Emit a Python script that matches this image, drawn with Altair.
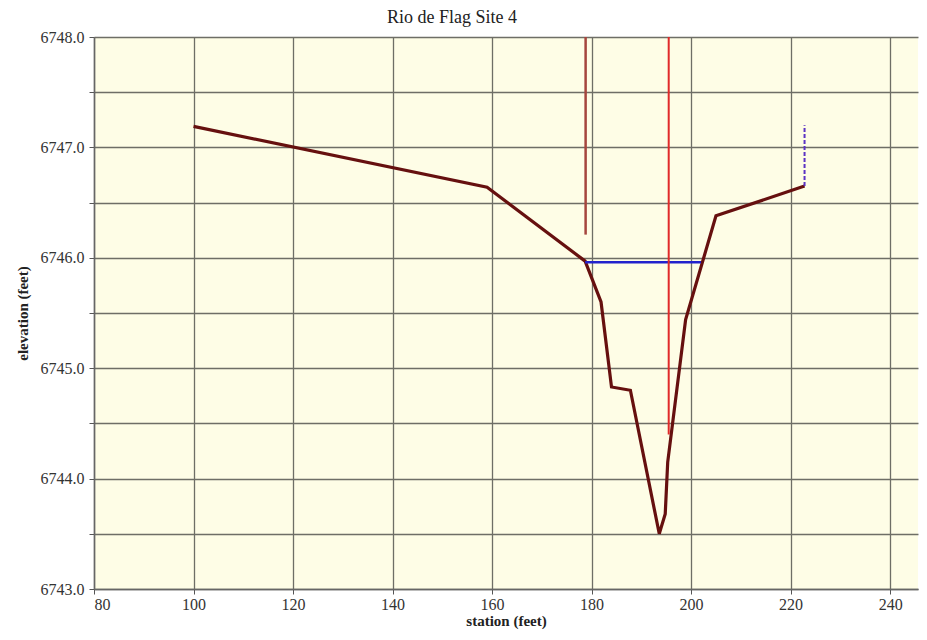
import altair as alt
import pandas as pd

# ground profile
station = [100, 159, 178.7, 181.9, 184.0, 187.8, 193.6, 194.8, 195.3, 198.9, 205.0, 222.8]
elevation = [6747.19, 6746.64, 6745.97, 6745.60, 6744.83, 6744.80, 6743.50, 6743.68, 6744.15, 6745.44, 6746.38, 6746.65]

# water surface
water_x = [178.7, 202.0]
water_y = [6745.96, 6745.96]

# vertical markers
brown_x = [178.8, 178.8]
brown_y = [6748.0, 6746.21]
red_x = [195.5, 195.5]
red_y = [6748.0, 6744.40]
purple_x = [222.8, 222.8]
purple_y = [6746.65, 6747.20]

x_ticks = [80, 100, 120, 140, 160, 180, 200, 220, 240]
y_ticks = [6743.0, 6743.5, 6744.0, 6744.5, 6745.0, 6745.5, 6746.0, 6746.5, 6747.0, 6747.5, 6748.0]

FONT = "Liberation Serif"

xs = alt.Scale(domain=[80, 245.6], nice=False, zero=False)
ys = alt.Scale(domain=[6743, 6748], nice=False, zero=False)

xax = alt.Axis(values=x_ticks, title="station (feet)", grid=True, gridColor="#6e6e66",
               gridWidth=1.3, labelFont=FONT, labelFontSize=16, labelColor="#333",
               titleFont=FONT, titleFontSize=15, titleFontWeight="bold", titleColor="#222",
               titlePadding=1, tickColor="#555", domainColor="#666", domainWidth=1.5,
               labelPadding=2)
yax = alt.Axis(values=y_ticks, title="elevation (feet)", grid=True, gridColor="#6e6e66",
               gridWidth=1.3,
               labelExpr="datum.value % 1 == 0 ? format(datum.value, '.1f') : ''",
               labelFont=FONT, labelFontSize=16, labelColor="#333", labelPadding=5,
               titleFont=FONT, titleFontSize=15, titleFontWeight="bold", titleColor="#222",
               titlePadding=10, tickColor="#555", domainColor="#666", domainWidth=1.5)


def seg(xv, yv, color, width, dash=None):
    df = pd.DataFrame({"x": xv, "y": yv, "o": list(range(len(xv)))})
    kw = dict(color=color, strokeWidth=width)
    if dash:
        kw["strokeDash"] = dash
    return alt.Chart(df).mark_line(**kw).encode(
        x=alt.X("x:Q", scale=xs, axis=xax),
        y=alt.Y("y:Q", scale=ys, axis=yax),
        order="o:Q",
    )


ground = seg(station, elevation, "#66100f", 3.2)
brown = seg(brown_x, brown_y, "#a5463e", 2.5)
red = seg(red_x, red_y, "#e02a2a", 2)
water = seg(water_x, water_y, "#2222cc", 2.5)
purple = seg(purple_x, purple_y, "#5b33c4", 2, dash=[4, 2])

title_df = pd.DataFrame({"t": ["Rio de Flag Site 4"]})
title = alt.Chart(title_df).mark_text(font=FONT, fontSize=18, color="#222",
                                      baseline="alphabetic", align="center").encode(
    text="t:N", x=alt.value(358), y=alt.value(-14))

chart = alt.layer(ground, water, brown, red, purple, title).properties(
    width=824, height=552,
    autosize=alt.AutoSizeParams(type="none"),
    padding={"left": 86, "top": 29, "right": 1, "bottom": 48},
    background="white",
).configure_view(fill="#fefde6", stroke=None)

chart.save("out.html", embed_options={"renderer": "svg", "actions": False})
